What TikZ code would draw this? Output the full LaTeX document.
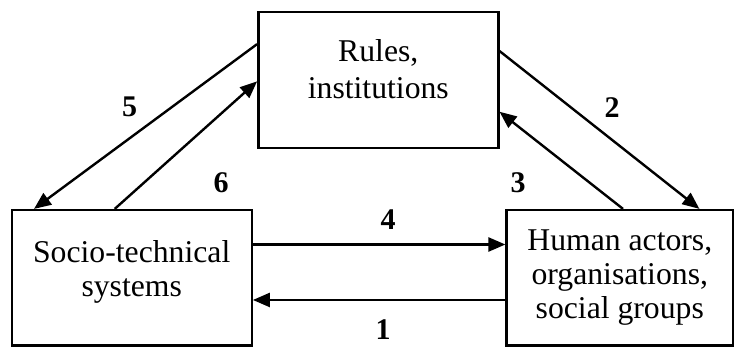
\documentclass[tikz,border=0pt]{standalone}
\usepackage{fontspec}
\setmainfont{Liberation Serif}
\usetikzlibrary{arrows.meta,calc}

\begin{document}
\begin{tikzpicture}[x=0.5pt, y=-0.5pt, line width=1.2pt, >={Triangle[length=8.5pt,width=7pt]},
    box/.style={draw, rectangle, align=center, inner sep=0pt, minimum height=67.8pt,
        font=\fontsize{15.85}{17}\selectfont},
    num/.style={inner sep=0pt, font=\fontsize{15}{15}\selectfont\bfseries}]
    \useasboundingbox (0,0) rectangle (734,347);

    \node[box, minimum width=120pt] (rules) at (378.3,80) {Rules,\\[1.5pt]institutions\\[-6pt]};
    \node[box, minimum width=120pt] (socio) at (131.7,277.9) {Socio-technical\\systems\\[-8pt]};
    \node[box, minimum width=113.2pt] (human) at (619.8,277.9) {Human actors,\\organisations,\\social groups};

    % where the arrows meet the boxes
    \coordinate (r5) at ($(rules.north west)!0.24!(rules.south west)$);
    \coordinate (r6) at ($(rules.north west)!0.51!(rules.south west)$);
    \coordinate (r2) at ($(rules.north east)!0.29!(rules.south east)$);
    \coordinate (r3) at ($(rules.north east)!0.73!(rules.south east)$);
    \coordinate (s5) at ($(socio.north west)!0.097!(socio.north east)$);
    \coordinate (s6) at ($(socio.north west)!0.43!(socio.north east)$);
    \coordinate (s4) at ($(socio.north east)!0.258!(socio.south east)$);
    \coordinate (s1) at ($(socio.north east)!0.66!(socio.south east)$);
    \coordinate (h3) at ($(human.north west)!0.514!(human.north east)$);
    \coordinate (h2) at ($(human.north west)!0.848!(human.north east)$);
    \coordinate (h4) at ($(human.north west)!0.258!(human.south west)$);
    \coordinate (h1) at ($(human.north west)!0.66!(human.south west)$);

    \draw[->] (r5) -- (s5);
    \draw[->] (s6) -- (r6);
    \draw[->] (r2) -- (h2);
    \draw[->] (h3) -- (r3);
    \draw[->] (s4) -- (h4);
    \draw[->] (h1) -- (s1);

    \node[num] (n5) at (129.5,107) {5};
    \node[num] (n6) at (221,183) {6};
    \node[num] (n2) at (612,107.5) {2};
    \node[num] (n3) at (518,183) {3};
    \node[num] (n4) at (388,220) {4};
    \node[num] (n1) at (383,330) {1};
\end{tikzpicture}
\end{document}
